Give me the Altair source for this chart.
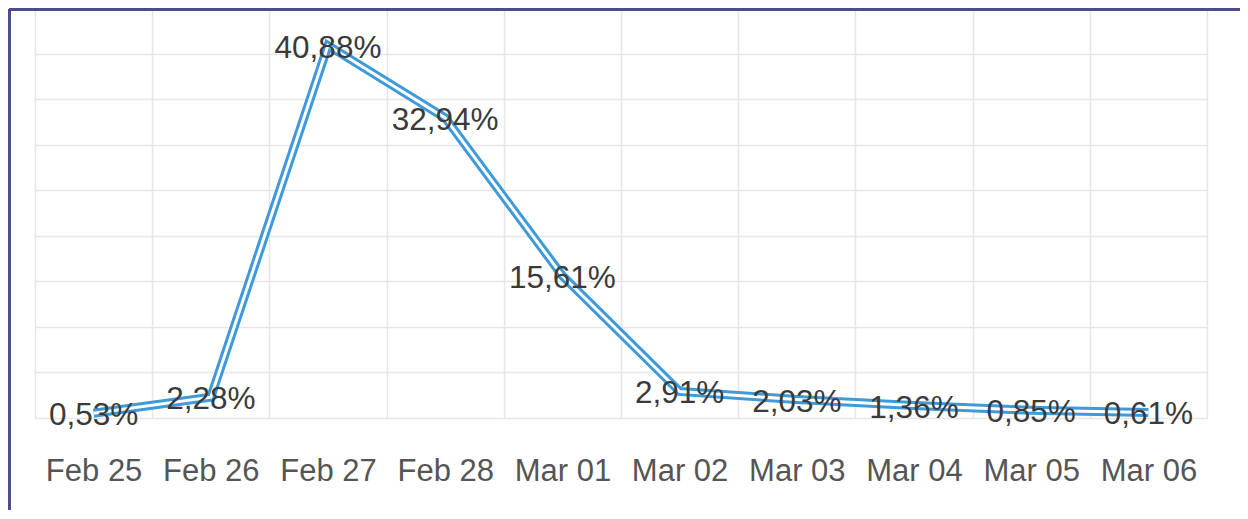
import altair as alt
import pandas as pd

dates = ["Feb 25", "Feb 26", "Feb 27", "Feb 28", "Mar 01",
         "Mar 02", "Mar 03", "Mar 04", "Mar 05", "Mar 06"]
values = [0.53, 2.28, 40.88, 32.94, 15.61, 2.91, 2.03, 1.36, 0.85, 0.61]
labels = ["0,53%", "2,28%", "40,88%", "32,94%", "15,61%",
          "2,91%", "2,03%", "1,36%", "0,85%", "0,61%"]

df = pd.DataFrame({"date": dates, "value": values, "label": labels})

xscale = alt.Scale(type="band", domain=dates, paddingInner=0, paddingOuter=0)

x = alt.X("date:N", sort=dates, title=None, scale=xscale,
          axis=alt.Axis(labelAngle=0, labelFontSize=31, labelColor="#555555",
                        labelFont="Liberation Sans", labelPadding=38,
                        tickBand="extent",
                        ticks=False, domain=False, grid=True,
                        gridColor="#e6e6e6", gridWidth=1.5))
y = alt.Y("value:Q", title=None,
          scale=alt.Scale(domain=[0, 45], nice=False),
          axis=alt.Axis(values=list(range(0, 50, 5)), labels=False, ticks=False,
                        domain=False, grid=True, gridColor="#e6e6e6", gridWidth=1.5))

base = alt.Chart(df)

outer = base.mark_line(color="#3e9ad8", strokeWidth=9, strokeJoin="miter").encode(x=x, y=y)
inner = base.mark_line(color="#ffffff", strokeWidth=3, strokeJoin="miter").encode(
    x=alt.X("date:N", sort=dates, scale=xscale), y="value:Q")

text = base.mark_text(fontSize=31.5, color="#3a3a3a", font="Liberation Sans",
                      align="center", baseline="middle", dy=3).encode(
    x=alt.X("date:N", sort=dates, scale=xscale), y="value:Q", text="label:N")

frame_left = base.mark_rule(color="#4b4b8e", strokeWidth=2.5).encode(
    x=alt.value(-25.5), y=alt.value(1.5), y2=alt.value(520))
frame_top = base.mark_rule(color="#4b4b8e", strokeWidth=2.5).encode(
    x=alt.value(-25.5), x2=alt.value(1250), y=alt.value(1.5))

chart = alt.layer(outer, inner, text, frame_left, frame_top).properties(
    width=1172, height=410,
    autosize=alt.AutoSizeParams(type="none"),
    padding={"left": 27, "top": 0, "right": 33, "bottom": 92},
).configure_view(stroke=None).configure(background="#ffffff")

chart.save("out.html", embed_options={"renderer": "svg", "actions": False})
